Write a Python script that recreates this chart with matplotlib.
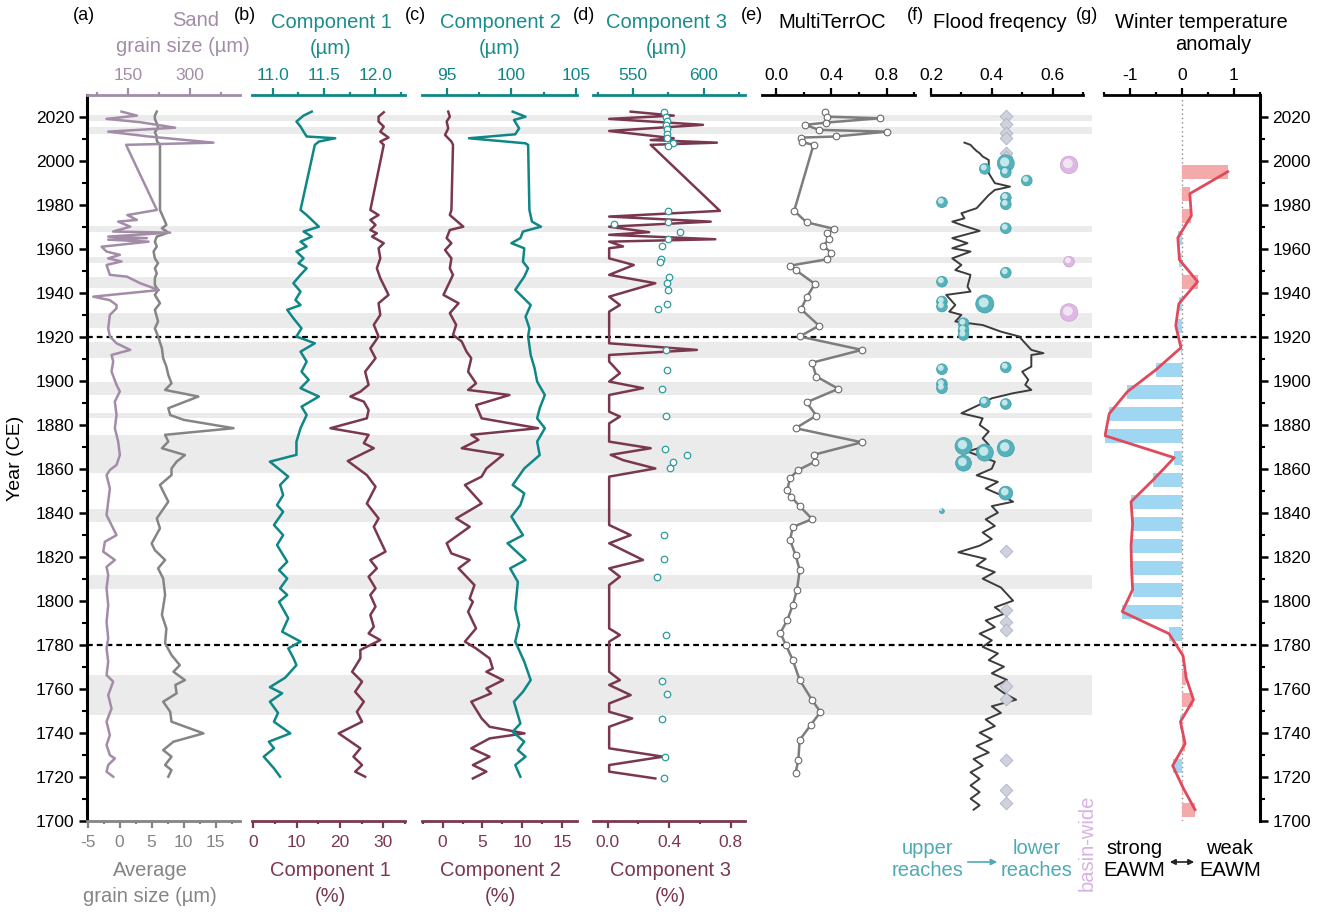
import matplotlib
matplotlib.use("Agg")
import matplotlib.pyplot as plt
import matplotlib.patches as mpatches
import matplotlib.transforms as mtransforms
from matplotlib.ticker import FixedLocator, FormatStrFormatter

plt.rcParams['font.family'] = ['Liberation Sans', 'DejaVu Sans']
plt.rcParams['axes.unicode_minus'] = False

# ---------------- data ----------------
# (a) sand grain size (um, top axis) and average grain size (um, bottom axis)
sand_years = [2022.3, 2020.5, 2019.0, 2017.5, 2015.0, 2013.2, 2011.0, 2008.2, 2007.2, 1977.6,
              1975.3, 1973.1, 1972.3, 1970.0, 1967.8, 1967.3, 1965.5, 1964.8, 1964.1, 1963.2,
              1961.7, 1960.9, 1958.7, 1957.2, 1955.6, 1954.2, 1952.6, 1948.1, 1947.3, 1944.3,
              1941.2, 1938.2, 1936.6, 1934.4, 1932.9, 1929.9, 1923.8, 1920.1, 1917.0, 1914.0,
              1911.7, 1908.7, 1904.2, 1898.1, 1895.1, 1890.5, 1884.4, 1878.4, 1872.3, 1866.2,
              1861.7, 1859.4, 1857.1, 1851.0, 1845.0, 1838.9, 1835.9, 1829.8, 1826.8, 1822.3,
              1818.5, 1815.4, 1811.7, 1805.6, 1798.0, 1790.4, 1782.9, 1778.3, 1772.3, 1766.2,
              1763.2, 1757.1, 1751.0, 1745.0, 1738.9, 1734.4, 1729.8, 1728.3, 1725.3, 1722.3, 1720.0]
sand_size = [135, 172, 99, 180, 264, 103, 200, 356, 146, 220,
             149, 172, 127, 156, 115, 252, 103, 196, 103, 200,
             127, 87, 99, 131, 103, 135, 99, 107, 148, 180,
             225, 67, 107, 123, 123, 107, 103, 107, 123, 156,
             111, 115, 111, 123, 131, 119, 123, 119, 127, 131,
             123, 107, 99, 107, 103, 99, 107, 123, 95, 91,
             119, 99, 103, 99, 103, 99, 103, 99, 103, 99,
             115, 103, 111, 99, 107, 99, 107, 119, 103, 99, 115]

avg_years = [2022.3, 2020.5, 2019.0, 2017.0, 2015.0, 2013.0, 2011.0, 2009.0, 2007.2, 1977.6,
             1972.3, 1970.8, 1969.3, 1967.3, 1965.5, 1963.2, 1961.0, 1958.7, 1955.6, 1953.4,
             1951.1, 1948.8, 1946.6, 1943.5, 1941.2, 1939.0, 1935.2, 1932.2, 1926.9, 1923.8,
             1920.1, 1914.7, 1910.2, 1906.4, 1902.6, 1898.8, 1895.8, 1892.8, 1887.5, 1884.4,
             1882.2, 1878.4, 1875.4, 1872.3, 1869.3, 1866.2, 1863.2, 1860.1, 1857.1, 1852.6,
             1845.0, 1837.4, 1832.9, 1826.0, 1823.0, 1818.5, 1814.7, 1810.1, 1802.6, 1793.5,
             1787.4, 1780.6, 1775.3, 1770.7, 1767.7, 1763.9, 1761.7, 1757.9, 1754.1, 1749.5,
             1745.0, 1739.7, 1735.9, 1732.1, 1729.1, 1725.3, 1723.0, 1720.0]
avg_size = [5.8, 5.5, 5.5, 5.8, 6.0, 5.5, 5.8, 5.8, 6.3, 6.3,
            7.1, 7.3, 6.6, 7.6, 5.8, 5.5, 5.8, 5.3, 5.5, 6.0,
            5.5, 5.8, 5.5, 5.5, 6.0, 5.5, 6.3, 5.5, 6.0, 5.5,
            6.0, 6.6, 6.8, 7.3, 7.6, 8.1, 7.1, 12.3, 7.6, 7.9,
            10.0, 17.8, 7.1, 7.6, 6.6, 10.2, 8.9, 8.1, 8.1, 6.3,
            7.6, 5.8, 6.3, 5.0, 5.5, 7.1, 6.0, 6.8, 7.1, 6.6,
            7.3, 7.1, 8.1, 9.4, 8.4, 10.2, 8.7, 8.9, 6.8, 7.9,
            8.1, 13.1, 8.4, 6.8, 8.1, 7.1, 8.1, 7.6]

# (b) component 1: mode (um, top) and proportion (%, bottom)
c1_um_years = [2022.3, 2020.5, 2017.8, 2015.5, 2013.2, 2011.0, 2010.2, 2008.7, 2007.2, 1977.6,
               1975.3, 1973.1, 1970.0, 1967.8, 1965.5, 1963.2, 1961.0, 1958.7, 1955.6, 1953.4,
               1951.1, 1948.1, 1944.3, 1940.5, 1936.7, 1934.4, 1932.2, 1928.4, 1923.8, 1920.1,
               1917.0, 1913.2, 1908.7, 1904.1, 1900.4, 1896.6, 1892.8, 1888.2, 1884.4, 1878.4,
               1872.3, 1866.3, 1863.2, 1856.4, 1852.6, 1848.0, 1843.5, 1840.4, 1834.4, 1829.8,
               1825.3, 1817.7, 1813.9, 1810.1, 1805.6, 1802.6, 1799.5, 1792.0, 1785.9, 1781.4,
               1778.3, 1774.0, 1770.7, 1765.0, 1760.7, 1757.9, 1754.1, 1749.0, 1745.0, 1739.7,
               1735.9, 1732.9, 1729.1, 1723.8, 1720.0]
c1_um = [11.38, 11.30, 11.23, 11.27, 11.30, 11.33, 11.61, 11.45, 11.41, 11.27,
         11.33, 11.38, 11.45, 11.30, 11.38, 11.27, 11.33, 11.23, 11.30, 11.25,
         11.33, 11.27, 11.20, 11.27, 11.22, 11.27, 11.14, 11.20, 11.28, 11.23,
         11.41, 11.27, 11.33, 11.28, 11.35, 11.27, 11.45, 11.28, 11.33, 11.27,
         11.23, 11.23, 10.97, 11.15, 11.07, 11.10, 11.04, 11.10, 11.01, 11.10,
         11.04, 11.14, 11.06, 11.14, 11.07, 11.14, 11.06, 11.15, 11.09, 11.27,
         11.15, 11.20, 11.23, 11.12, 10.97, 11.09, 10.97, 11.05, 11.01, 11.17,
         10.96, 11.01, 10.91, 11.01, 11.07]

c1_pct_years = [2022.0, 2020.0, 2017.8, 2015.5, 2013.2, 2010.5, 2008.7, 2007.2, 1977.6, 1975.3,
                1973.1, 1970.8, 1968.5, 1967.0, 1965.5, 1962.5, 1960.2, 1955.6, 1951.1, 1946.6,
                1939.0, 1935.2, 1929.9, 1925.4, 1920.1, 1914.7, 1910.2, 1904.1, 1898.1, 1895.0,
                1892.8, 1890.5, 1886.7, 1882.9, 1878.4, 1875.4, 1871.6, 1869.3, 1866.3, 1863.5,
                1857.1, 1851.8, 1844.2, 1837.4, 1833.6, 1822.3, 1818.5, 1814.7, 1810.9, 1805.6,
                1802.6, 1797.3, 1793.5, 1788.2, 1785.1, 1782.1, 1777.6, 1773.8, 1767.7, 1763.2,
                1758.6, 1754.1, 1749.5, 1745.0, 1739.7, 1732.9, 1729.1, 1725.3, 1722.3, 1720.0]
c1_pct = [30.1, 28.9, 28.9, 30.1, 29.3, 31.2, 29.3, 30.1, 27.0, 28.9,
          27.0, 28.2, 27.0, 28.5, 27.4, 30.1, 28.9, 29.3, 28.5, 29.3,
          31.2, 28.9, 29.3, 27.8, 28.9, 27.0, 28.2, 25.8, 26.6, 24.7,
          22.4, 25.5, 26.6, 26.2, 17.8, 26.6, 25.5, 27.8, 24.7, 21.8,
          26.2, 28.2, 26.2, 28.9, 27.8, 30.5, 27.0, 28.5, 26.6, 28.2,
          27.0, 28.2, 27.0, 27.8, 26.6, 29.3, 24.7, 24.7, 22.8, 25.1,
          23.5, 25.5, 23.9, 25.1, 19.7, 24.7, 23.1, 25.1, 23.5, 25.8]

# (c) component 2
c2_pct_years = [2022.3, 2020.0, 2017.8, 2014.7, 2011.7, 2008.7, 2007.2, 1977.6, 1975.3, 1970.0,
                1968.5, 1964.8, 1962.5, 1959.4, 1955.6, 1951.1, 1948.1, 1939.0, 1935.2, 1930.7,
                1925.4, 1920.8, 1917.8, 1913.2, 1910.2, 1904.1, 1898.8, 1895.8, 1893.5, 1888.9,
                1882.9, 1878.4, 1875.4, 1873.1, 1869.3, 1866.3, 1860.1, 1856.4, 1852.6, 1844.2,
                1837.4, 1833.6, 1826.1, 1821.5, 1818.5, 1814.7, 1807.1, 1801.0, 1799.5, 1795.0,
                1787.4, 1781.4, 1778.3, 1773.8, 1769.2, 1767.7, 1763.9, 1760.1, 1757.9, 1754.1,
                1746.5, 1742.7, 1739.7, 1737.4, 1732.9, 1729.1, 1725.3, 1722.3, 1719.2]
c2_pct = [0.7, 0.9, 0.5, 0.7, 0.3, 1.1, 1.3, 1.1, 0.9, 2.6,
          0.9, 0.5, 1.1, 0.3, 1.1, 0.9, 1.3, 0.1, 2.0, 0.9,
          1.7, 1.3, 2.4, 3.0, 3.6, 3.2, 4.2, 3.2, 8.4, 4.2,
          4.9, 12.0, 3.6, 4.5, 2.4, 7.6, 5.5, 4.9, 2.8, 4.9,
          1.7, 3.4, 0.5, 1.1, 3.4, 2.0, 4.0, 3.4, 3.8, 3.2,
          4.2, 2.8, 4.2, 5.9, 6.3, 5.5, 7.6, 5.5, 6.1, 3.6,
          4.9, 5.9, 10.3, 5.9, 3.6, 5.9, 3.8, 5.5, 3.8]

c2_um_years = [2022.3, 2020.0, 2018.5, 2014.7, 2012.0, 2010.2, 2007.9, 2007.2, 1977.6, 1972.3,
               1970.0, 1967.8, 1964.8, 1962.5, 1960.2, 1954.1, 1951.1, 1947.3, 1941.3, 1934.4,
               1929.1, 1923.8, 1920.1, 1911.7, 1905.7, 1899.6, 1893.5, 1887.5, 1882.9, 1878.4,
               1872.3, 1866.2, 1860.1, 1852.6, 1848.8, 1843.5, 1838.2, 1829.8, 1826.1, 1818.5,
               1814.7, 1808.6, 1796.5, 1788.9, 1781.4, 1772.3, 1763.9, 1758.6, 1754.1, 1744.2,
               1740.4, 1735.9, 1732.1, 1729.1, 1725.3, 1720.0]
c2_um = [100.1, 101.1, 100.2, 100.6, 100.3, 96.7, 101.1, 101.3, 101.4, 101.6,
         102.3, 100.9, 100.7, 100.0, 101.0, 100.9, 101.3, 101.0, 100.3, 101.5,
         101.1, 101.4, 101.3, 101.5, 101.8, 102.0, 102.6, 102.2, 102.0, 102.6,
         102.0, 102.2, 101.0, 100.1, 101.0, 100.7, 100.0, 100.9, 99.7, 101.1,
         99.9, 100.5, 100.3, 100.6, 100.3, 101.0, 101.5, 100.9, 100.2, 100.7,
         100.1, 101.0, 100.5, 101.1, 100.3, 100.7]

# (d) component 3
c3_pct_years = [2022.3, 2020.5, 2019.0, 2016.3, 2013.5, 2010.2, 2009.4, 2008.2, 2007.2, 1977.2,
                1974.6, 1972.3, 1970.0, 1967.5, 1966.3, 1964.3, 1963.2, 1961.0, 1960.2, 1955.6,
                1952.6, 1948.1, 1944.3, 1938.2, 1934.4, 1931.4, 1917.0, 1914.0, 1911.7, 1908.7,
                1903.4, 1899.6, 1896.6, 1893.5, 1885.9, 1883.7, 1880.6, 1872.3, 1869.3, 1866.3,
                1863.9, 1860.1, 1856.4, 1834.4, 1829.8, 1826.1, 1818.5, 1814.7, 1810.9, 1807.1,
                1787.4, 1784.4, 1781.4, 1767.7, 1763.9, 1761.7, 1757.1, 1753.3, 1749.5, 1746.5,
                1742.7, 1732.9, 1729.1, 1725.3, 1722.3, 1719.2]
c3_pct = [0.15, 0.43, 0.01, 0.62, 0.01, 0.43, 0.28, 0.71, 0.28, 0.73,
          0.01, 0.67, 0.01, 0.27, 0.01, 0.70, 0.01, 0.10, 0.01, 0.01,
          0.17, 0.01, 0.31, 0.01, 0.08, 0.01, 0.01, 0.58, 0.01, 0.01,
          0.08, 0.01, 0.23, 0.01, 0.01, 0.08, 0.01, 0.01, 0.28, 0.02,
          0.10, 0.31, 0.01, 0.01, 0.15, 0.01, 0.23, 0.01, 0.08, 0.01,
          0.01, 0.08, 0.01, 0.01, 0.08, 0.01, 0.15, 0.01, 0.01, 0.16,
          0.01, 0.01, 0.36, 0.01, 0.01, 0.31]

c3_um_years = [2022.3, 2020.0, 2018.1, 2016.3, 2014.3, 2012.2, 2010.2, 2008.2, 2006.9, 1977.2,
               1972.3, 1971.3, 1967.5, 1964.3, 1961.0, 1955.4, 1954.1, 1947.2, 1944.3, 1941.3,
               1934.9, 1932.5, 1914.0, 1904.9, 1896.3, 1884.1, 1869.0, 1866.3, 1863.2, 1860.1,
               1829.8, 1818.8, 1810.9, 1784.4, 1763.6, 1757.4, 1746.2, 1728.8, 1719.2]
c3_um = [571.8, 573.2, 573.7, 573.2, 573.7, 573.7, 574.2, 578.0, 574.9, 574.9,
         574.4, 536.3, 583.2, 574.9, 570.8, 570.1, 569.0, 575.6, 574.2, 574.4,
         574.2, 567.8, 573.2, 574.2, 570.8, 573.2, 572.5, 587.9, 578.0, 576.1,
         572.0, 572.0, 567.3, 573.0, 570.8, 573.7, 570.6, 572.5, 572.0]

# (e) MultiTerrOC
toc_years = [2022.3, 2020.0, 2019.3, 2017.3, 2016.3, 2014.0, 2013.2, 2011.0, 2010.5, 2008.4,
             2007.2, 1977.2, 1972.0, 1969.0, 1967.3, 1964.3, 1961.2, 1958.2, 1955.2, 1952.3,
             1950.3, 1944.0, 1937.9, 1932.5, 1925.0, 1920.1, 1914.0, 1908.2, 1901.9, 1896.3,
             1890.2, 1884.1, 1878.4, 1872.0, 1866.3, 1863.2, 1859.4, 1855.8, 1850.3, 1847.1,
             1843.0, 1837.1, 1833.5, 1827.6, 1820.8, 1813.9, 1804.9, 1798.0, 1791.2, 1785.3,
             1779.9, 1773.0, 1763.9, 1754.8, 1749.4, 1743.5, 1736.7, 1727.6, 1721.7]
toc = [0.35, 0.37, 0.75, 0.36, 0.21, 0.31, 0.80, 0.43, 0.18, 0.19,
       0.27, 0.13, 0.22, 0.42, 0.37, 0.38, 0.34, 0.40, 0.37, 0.10,
       0.14, 0.28, 0.22, 0.18, 0.31, 0.17, 0.62, 0.26, 0.29, 0.45,
       0.22, 0.29, 0.14, 0.62, 0.27, 0.28, 0.16, 0.10, 0.08, 0.11,
       0.17, 0.26, 0.12, 0.10, 0.14, 0.17, 0.15, 0.12, 0.08, 0.03,
       0.07, 0.12, 0.17, 0.26, 0.32, 0.25, 0.17, 0.16, 0.14]

# (f) flood frequency
flood_years = [2008.2, 2007.2, 2005.7, 2004.4, 2003.4, 2001.9, 2001.1, 2000.3, 1997.3, 1994.3,
               1989.8, 1988.2, 1986.7, 1984.4, 1981.4, 1978.4, 1976.1, 1973.8, 1972.3, 1970.8,
               1968.1, 1964.8, 1962.5, 1960.2, 1958.7, 1955.6, 1952.6, 1950.3, 1948.1, 1942.8,
               1940.5, 1939.0, 1934.4, 1931.4, 1929.9, 1926.9, 1925.3, 1922.3, 1920.1, 1917.0,
               1914.0, 1912.5, 1911.7, 1906.4, 1904.1, 1900.4, 1898.1, 1895.8, 1894.3, 1892.0,
               1889.8, 1885.2, 1882.9, 1879.9, 1876.9, 1873.8, 1870.8, 1867.8, 1863.2,
               1860, 1857, 1854, 1851, 1848, 1845, 1843, 1840, 1837, 1834,
               1831, 1828, 1825, 1822, 1819, 1816, 1813, 1810, 1806, 1803,
               1800, 1797, 1794, 1791, 1788, 1785, 1782, 1779, 1776, 1773,
               1770, 1767, 1764, 1761, 1758, 1755, 1752, 1749, 1746, 1743,
               1740, 1737, 1734, 1731, 1728, 1725, 1722, 1719, 1716, 1713,
               1710, 1707, 1705]
flood_freq = [0.31, 0.33, 0.34, 0.35, 0.36, 0.37, 0.38, 0.39, 0.39, 0.39,
              0.41, 0.46, 0.41, 0.39, 0.37, 0.35, 0.30, 0.31, 0.27, 0.30,
              0.36, 0.27, 0.32, 0.27, 0.33, 0.27, 0.30, 0.28, 0.33, 0.32,
              0.33, 0.25, 0.28, 0.26, 0.30, 0.28, 0.37, 0.43, 0.49, 0.51,
              0.53, 0.57, 0.53, 0.53, 0.50, 0.52, 0.51, 0.53, 0.47, 0.40,
              0.37, 0.30, 0.37, 0.36, 0.39, 0.37, 0.39, 0.32, 0.41,
              0.40, 0.35, 0.42, 0.38, 0.43, 0.47, 0.40, 0.42, 0.38, 0.41,
              0.37, 0.40, 0.36, 0.29, 0.38, 0.35, 0.41, 0.37, 0.43, 0.45,
              0.47, 0.41, 0.44, 0.38, 0.41, 0.36, 0.40, 0.37, 0.42, 0.39,
              0.44, 0.40, 0.45, 0.41, 0.44, 0.48, 0.40, 0.43, 0.38, 0.41,
              0.36, 0.40, 0.35, 0.39, 0.34, 0.37, 0.33, 0.36, 0.33, 0.36,
              0.33, 0.36, 0.34]

# flood events: reach position (upper -> lower), year, marker area
flood_pos = [0.446, 0.377, 0.446, 0.515, 0.446, 0.236, 0.446, 0.446, 0.446, 0.236,
             0.236, 0.377, 0.236, 0.307, 0.307, 0.307, 0.446, 0.236, 0.236, 0.236,
             0.377, 0.446, 0.307, 0.446, 0.377, 0.307, 0.446, 0.236]
flood_ev_years = [1998.8, 1996.3, 1994.7, 1991.0, 1983.2, 1981.1, 1980.2, 1969.3, 1949.1, 1945.0,
                  1936.0, 1934.9, 1933.7, 1926.1, 1923.1, 1920.8, 1906.1, 1905.2, 1898.5, 1896.6,
                  1890.2, 1889.4, 1870.3, 1869.3, 1867.3, 1862.5, 1848.9, 1840.7]
flood_ev_size = [150, 60, 60, 60, 60, 60, 60, 60, 60, 60,
                 60, 170, 60, 60, 60, 60, 60, 60, 60, 60,
                 60, 60, 150, 150, 150, 130, 100, 12]

diamond_years = [2020.5, 2016.6, 2012.5, 2010.2, 2003.4, 2001.9, 1822.5, 1795.6, 1790.1,
                 1786.5, 1761.1, 1755.1, 1727.4, 1713.8, 1707.9]
diamond_pos = 0.448

basin_years = [1998.1, 1954.1, 1931.0]
basin_size = [160, 60, 160]
basin_pos = 0.654

# (g) winter temperature anomaly, decadal
wt_years = [1995, 1985, 1975, 1965, 1955, 1945, 1935, 1925, 1915, 1905,
            1895, 1885, 1875, 1865, 1855, 1845, 1835, 1825, 1815, 1805,
            1795, 1785, 1775, 1765, 1755, 1745, 1735, 1725, 1715, 1705]
wt_anom = [0.88, 0.15, 0.18, -0.08, -0.05, 0.30, -0.06, -0.12, -0.02, -0.50,
           -1.05, -1.40, -1.48, -0.15, -0.55, -0.98, -0.95, -0.98, -0.97, -0.95,
           -1.15, -0.25, 0.02, 0.08, 0.22, -0.03, 0.06, -0.18, 0.02, 0.25]

# shaded flood intervals and boundaries
bands = [(2018.0, 2020.8), (2012.1, 2015.2), (1967.7, 1970.3), (1953.6, 1956.1),
         (1942.0, 1947.3), (1924.1, 1930.6), (1910.2, 1917.7), (1893.5, 1899.5),
         (1882.9, 1885.2), (1857.9, 1875.3), (1835.6, 1841.7), (1805.2, 1811.7),
         (1748.0, 1766.2)]
boundaries = [1920, 1780]

# ---------------- colours ----------------
PURPLE = '#a38ca8'
GREY = '#858585'
TEAL = '#0f8787'
MAROON = '#7a3850'
TEAL_TXT = '#1a8c8c'
SPH = '#55b2bc'
SPH_HI = '#d9f1f3'
PINK_SPH = '#dcb8e2'
REACH = '#4eaab5'

# ---------------- layout ----------------
W, H = 1319, 915
Y_TOP, Y_BOT = 95, 820.7
YLIM = (1700, 2029.86)

fig = plt.figure(figsize=(W / 100, H / 100), dpi=100)


def box(x0, x1):
    return [x0 / W, 1 - Y_BOT / H, (x1 - x0) / W, (Y_BOT - Y_TOP) / H]


def ftext(x, y, s, **kw):
    kw.setdefault('ha', 'center')
    kw.setdefault('va', 'center')
    kw.setdefault('fontsize', 14.5)
    fig.text(x / W, 1 - y / H, s, **kw)


def farrow(x0, x1, y, style, color, scale):
    fig.patches.append(mpatches.FancyArrowPatch(
        (x0 / W, 1 - y / H), (x1 / W, 1 - y / H), transform=fig.transFigure,
        arrowstyle=style, mutation_scale=scale, color=color, lw=1.2))


# background axes: year axis, shaded bands, dashed boundaries
bg = fig.add_axes(box(87, 1260))
bg.set_xlim(0, 1)
bg.set_ylim(YLIM)
bg.patch.set_visible(False)
for side in ['top', 'bottom']:
    bg.spines[side].set_visible(False)
for side in ['left', 'right']:
    bg.spines[side].set_linewidth(2.2)
bg.set_xticks([])
bg.yaxis.set_major_locator(FixedLocator(range(1700, 2021, 20)))
bg.yaxis.set_minor_locator(FixedLocator(range(1710, 2021, 20)))
bg.tick_params(axis='y', which='major', direction='out', length=6, width=1.8,
               labelsize=12.5, left=True, right=True, labelleft=True, labelright=True, pad=3)
bg.tick_params(axis='y', which='minor', direction='out', length=3.5, width=1.5, left=True, right=True)
xmax_band = (1092 - 87) / (1260 - 87)
for lo, hi in bands:
    bg.axhspan(lo, hi, xmin=0, xmax=xmax_band, color='#ebebeb', lw=0, zorder=0)
for yb in boundaries:
    bg.axhline(yb, color='black', ls=(0, (2.6, 1.8)), lw=1.6, zorder=1)

ftext(16, 458, 'Year (CE)', rotation=90, fontsize=14)


def style_x(ax, side, lim, major, minor, color, fmt, pad=3.5):
    ax.set_xlim(lim)
    ax.set_ylim(YLIM)
    ax.patch.set_visible(False)
    for s in ax.spines.values():
        s.set_visible(False)
    ax.spines[side].set_visible(True)
    ax.spines[side].set_color(color)
    ax.spines[side].set_linewidth(2.0)
    if side == 'top':
        ax.xaxis.set_ticks_position('top')
    else:
        ax.xaxis.set_ticks_position('bottom')
    ax.xaxis.set_major_locator(FixedLocator(major))
    ax.xaxis.set_minor_locator(FixedLocator(minor))
    ax.xaxis.set_major_formatter(FormatStrFormatter(fmt))
    ax.tick_params(axis='x', which='major', direction='out', length=5, width=1.6,
                   color=color, labelcolor=color, labelsize=12.5, pad=pad)
    ax.tick_params(axis='x', which='minor', direction='out', length=2.5, width=1.6, color=color)
    ax.tick_params(axis='y', left=False, right=False, labelleft=False, labelright=False)


def panel(x0, x1):
    ax = fig.add_axes(box(x0, x1))
    ax.set_ylim(YLIM)
    return ax


# (a)
ax_a = panel(87, 240)
style_x(ax_a, 'bottom', (-5.1, 18.8), [-5, 0, 5, 10, 15], [-2.5, 2.5, 7.5, 12.5, 17.5], GREY, '%g', pad=5)
ax_a.plot(avg_size, avg_years, color=GREY, lw=1.8)
ax_a2 = ax_a.twiny()
style_x(ax_a2, 'top', (52, 420), [150, 300], [75, 225, 375], PURPLE, '%g')
ax_a2.plot(sand_size, sand_years, color=PURPLE, lw=1.8)

# (b)
ax_b = panel(252, 405)
style_x(ax_b, 'bottom', (-0.3, 35), [0, 10, 20, 30], [5, 15, 25, 35], MAROON, '%g', pad=5)
ax_b.plot(c1_pct, c1_pct_years, color=MAROON, lw=1.8)
ax_b2 = ax_b.twiny()
style_x(ax_b2, 'top', (10.795, 12.293), [11.0, 11.5, 12.0], [11.25, 11.75, 12.25], TEAL, '%.1f')
ax_b2.plot(c1_um, c1_um_years, color=TEAL, lw=1.8)

# (c)
ax_c = panel(422, 577)
style_x(ax_c, 'bottom', (-2.6, 16.9), [0, 5, 10, 15], [-2.5, 2.5, 7.5, 12.5], MAROON, '%g', pad=5)
ax_c.plot(c2_pct, c2_pct_years, color=MAROON, lw=1.8)
ax_c2 = ax_c.twiny()
style_x(ax_c2, 'top', (93.05, 105.1), [95, 100, 105], [97.5, 102.5], TEAL, '%g')
ax_c2.plot(c2_um, c2_um_years, color=TEAL, lw=1.8)

# (d)
ax_d = panel(593, 745)
style_x(ax_d, 'bottom', (-0.095, 0.893), [0.0, 0.4, 0.8], [0.2, 0.6], MAROON, '%.1f', pad=5)
ax_d.plot(c3_pct, c3_pct_years, color=MAROON, lw=1.8)
ax_d2 = ax_d.twiny()
style_x(ax_d2, 'top', (521.6, 629.3), [550, 600], [525, 575, 625], TEAL, '%g')
ax_d2.scatter(c3_um, c3_um_years, s=22, facecolor='white', edgecolor='#2f9c9c', lw=0.9, zorder=4)

# (e)
ax_e = panel(762, 915)
style_x(ax_e, 'top', (-0.103, 1.005), [0.0, 0.4, 0.8], [0.2, 0.6, 1.0], 'black', '%.1f')
ax_e.plot(toc, toc_years, color='#7d7d7d', lw=1.8, marker='o', ms=4.8,
          mfc='white', mec='#6a6a6a', mew=0.8)

# (f)
ax_f = panel(931, 1083)
style_x(ax_f, 'top', (0.2, 0.7), [0.2, 0.4, 0.6], [0.3, 0.5, 0.7], 'black', '%.1f')
ax_f.plot(flood_freq, flood_years, color='#3c3c3c', lw=1.4, zorder=3)
ax_f.scatter([diamond_pos] * len(diamond_years), diamond_years, marker='D', s=42,
             facecolor='#cfd2dc', edgecolor='#aeb2bf', lw=0.6, zorder=4)


def spheres(ax, xs, ys, sizes, base, hi, edge):
    ax.scatter(xs, ys, s=sizes, color=base, edgecolors=edge, linewidths=0.5, zorder=5, clip_on=False)
    off = mtransforms.offset_copy(ax.transData, fig=fig, x=-0.8, y=1.0, units='points')
    ax.scatter(xs, ys, s=[v * 0.3 for v in sizes], color=hi, alpha=0.85, lw=0,
               zorder=6, transform=off, clip_on=False)


spheres(ax_f, flood_pos, flood_ev_years, flood_ev_size, SPH, SPH_HI, '#3f9ea8')
spheres(ax_f, [basin_pos] * len(basin_years), basin_years, basin_size, PINK_SPH, '#f7ecf8', '#c9a3d1')

# (g)
ax_g = panel(1104, 1260)
style_x(ax_g, 'top', (-1.5, 1.5), [-1, 0, 1], [-1.5, -0.5, 0.5, 1.5], 'black', '%g')
bar_cols = ['#9fd6f2' if v < 0 else '#f4aaaa' for v in wt_anom]
ax_g.barh(wt_years, wt_anom, height=6.2, color=bar_cols, lw=0, zorder=2)
ax_g.axvline(0, color='#8c8c8c', ls=(0, (1, 2.2)), lw=1.0, zorder=1)
ax_g.plot(wt_anom, wt_years, color='#e04a5c', lw=2.0, zorder=3)

# ---------------- titles ----------------
LET = dict(fontsize=13)
ftext(84, 15, '(a)', **LET)
ftext(196, 21, 'Sand', color=PURPLE)
ftext(183, 47, 'grain size (\u00b5m)', color=PURPLE)
ftext(245, 15, '(b)', **LET)
ftext(331, 22, 'Component 1', color=TEAL_TXT)
ftext(331, 48, '(\u00b5m)', color=TEAL_TXT)
ftext(415, 15, '(c)', **LET)
ftext(500, 22, 'Component 2', color=TEAL_TXT)
ftext(500, 48, '(\u00b5m)', color=TEAL_TXT)
ftext(584, 15, '(d)', **LET)
ftext(667, 22, 'Component 3', color=TEAL_TXT)
ftext(667, 48, '(\u00b5m)', color=TEAL_TXT)
ftext(752, 15, '(e)', **LET)
ftext(832, 22, 'MultiTerrOC')
ftext(915, 15, '(f)', **LET)
ftext(1000, 22, 'Flood freqency')
ftext(1087, 15, '(g)', **LET)
ftext(1201, 22, 'Winter temperature')
ftext(1213, 44, 'anomaly')

# bottom axis titles
ftext(150, 870, 'Average', color=GREY)
ftext(150, 896, 'grain size (\u00b5m)', color=GREY)
ftext(330, 870, 'Component 1', color=MAROON)
ftext(330, 896, '(%)', color=MAROON)
ftext(500, 870, 'Component 2', color=MAROON)
ftext(500, 896, '(%)', color=MAROON)
ftext(670, 870, 'Component 3', color=MAROON)
ftext(670, 896, '(%)', color=MAROON)

# reach / EAWM legend text
ftext(928, 848, 'upper', color=REACH)
ftext(928, 871, 'reaches', color=REACH)
ftext(1037, 848, 'lower', color=REACH)
ftext(1037, 871, 'reaches', color=REACH)
farrow(965, 1000, 862, '-|>', REACH, 9)
ftext(1087, 843, 'basin-wide', color='#d8b2e2', rotation=90)
ftext(1134, 848, 'strong')
ftext(1134, 871, 'EAWM')
ftext(1230, 848, 'weak')
ftext(1230, 871, 'EAWM')
farrow(1167, 1197, 862, '<|-|>', '#222222', 8)

fig.savefig('out.png', dpi=100)
